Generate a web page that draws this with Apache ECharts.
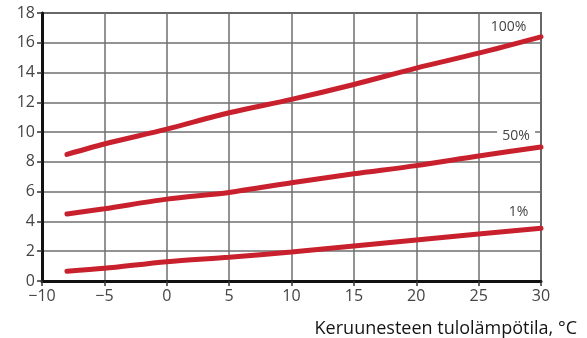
<!DOCTYPE html>
<html>
<head>
<meta charset="utf-8">
<script src="https://cdn.jsdelivr.net/npm/echarts@6/dist/echarts.min.js"></script>
<style>
  html, body { margin: 0; padding: 0; background: #fff; }
  #chart { width: 587px; height: 338px; }
</style>
</head>
<body>
<div id="chart"></div>
<script>
// menolämpötila (x) ja arvot kolmelle käyrälle
var temps = [-8, -5, 0, 5, 10, 15, 20, 25, 30]
var full = [8.5, 9.2, 10.2, 11.3, 12.2, 13.2, 14.3, 15.3, 16.4]
var half = [4.5, 4.85, 5.5, 5.95, 6.6, 7.2, 7.75, 8.4, 9.0]
var low = [0.65, 0.85, 1.3, 1.6, 1.95, 2.35, 2.75, 3.15, 3.55]
var seriesNames = ['100%', '50%', '1%']
var labelSpots = [[27.4, 17.05], [28.0, 9.75], [28.2, 4.63]]
var xTitle = 'Keruunesteen tulolämpötila, °C'

var chart = echarts.init(document.getElementById('chart'))

function pairs(ys) {
  var out = []
  for (var i = 0; i < temps.length; i++) {
    out.push([temps[i], ys[i]])
  }
  return out
}

var lineColor = '#c8212d'
var textColor = '#444'
var font = 'Open Sans'

var allData = [full, half, low]
var series = []
for (var k = 0; k < allData.length; k++) {
  series.push({
    name: seriesNames[k],
    type: 'line',
    data: pairs(allData[k]),
    smooth: 0.3,
    symbol: 'none',
    lineStyle: { color: lineColor, width: 5, cap: 'round' },
    markPoint: {
      symbol: 'rect',
      symbolSize: [38, 16],
      itemStyle: { color: '#fff' },
      label: {
        show: true,
        formatter: seriesNames[k],
        color: textColor,
        fontFamily: font,
        fontSize: 14
      },
      data: [{ coord: labelSpots[k] }]
    }
  })
}

chart.setOption({
  animation: false,
  grid: {
    left: 42,
    right: 46,
    top: 13,
    bottom: 57,
    show: true,
    borderColor: '#555',
    borderWidth: 2
  },
  xAxis: {
    type: 'value',
    min: -10,
    max: 30,
    interval: 5,
    axisLine: { show: true, onZero: false, lineStyle: { color: '#111', width: 3 } },
    axisTick: { show: true, length: 5, lineStyle: { color: '#333', width: 1.5 } },
    axisLabel: {
      color: textColor,
      fontFamily: font,
      fontSize: 16,
      margin: 7,
      formatter: function (v) { return String(v).replace('-', '\u2212') }
    },
    splitLine: { show: true, lineStyle: { color: '#6f6f6f', width: 1.5 } }
  },
  yAxis: {
    type: 'value',
    min: 0,
    max: 18,
    interval: 2,
    axisLine: { show: true, onZero: false, lineStyle: { color: '#111', width: 3 } },
    axisTick: { show: true, length: 5, lineStyle: { color: '#333', width: 1.5 } },
    axisLabel: {
      color: textColor,
      fontFamily: font,
      fontSize: 16,
      margin: 7
    },
    splitLine: { show: true, lineStyle: { color: '#6f6f6f', width: 1.5 } }
  },
  graphic: [{
    type: 'text',
    right: 10,
    bottom: 0,
    style: {
      text: xTitle,
      fill: '#151515',
      font: '18px "Open Sans"'
    }
  }],
  series: series
})
</script>
</body>
</html>
